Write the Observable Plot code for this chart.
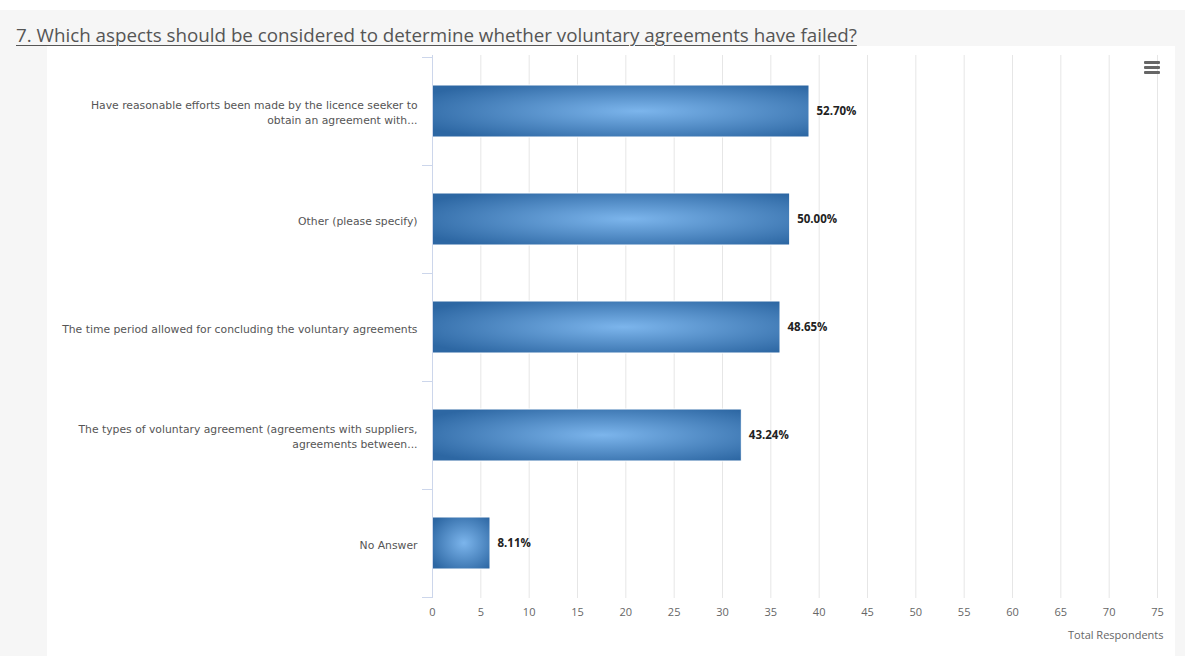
<!DOCTYPE html>
<html>
<head>
<meta charset="utf-8">
<script src="https://cdn.jsdelivr.net/npm/d3@7"></script>
<script src="https://cdn.jsdelivr.net/npm/@observablehq/plot@0.6"></script>
<style>
  html, body { margin: 0; padding: 0; background: #ffffff; }
  #page { position: absolute; left: 0; top: 10px; width: 1185px; height: 646px; background: #f6f6f6; }
  #title { position: absolute; left: 16px; top: 12px; z-index: 2; font-family: "Open Sans", sans-serif; font-size: 18.8px; color: #555; text-decoration: underline; text-underline-offset: 3px; text-decoration-thickness: 1px; white-space: nowrap; }
  #panel { position: absolute; left: 47px; top: 36px; width: 1128px; height: 610px; background: #ffffff; }
  #menu { position: absolute; right: 15px; top: 15px; width: 16px; }
  #menu div { height: 3px; background: #666; margin-bottom: 2px; border-radius: 1px; }
</style>
</head>
<body>
<div id="page">
  <div id="panel"><div id="chart"></div><div id="menu"><div></div><div></div><div></div></div></div>
  <div id="title">7. Which aspects should be considered to determine whether voluntary agreements have failed?</div>
</div>
<script>
const categories = [
  "Have reasonable efforts been made by the licence seeker to\nobtain an agreement with...",
  "Other (please specify)",
  "The time period allowed for concluding the voluntary agreements",
  "The types of voluntary agreement (agreements with suppliers,\nagreements between...",
  "No Answer"
];
const respondents = [39, 37, 36, 32, 6];
const percentLabels = ["52.70%", "50.00%", "48.65%", "43.24%", "8.11%"];
const xTicks = [0, 5, 10, 15, 20, 25, 30, 35, 40, 45, 50, 55, 60, 65, 70, 75];
const xLabel = "Total Respondents";

const data = categories.map((c, i) => ({category: c, value: respondents[i], label: percentLabels[i]}));
const padInner = 0.52;

function bandBoundaryTicks(index, scales) {
  const y = scales.y, x = scales.x;
  const ys = categories.map(c => y(c));
  const step = ys[1] - ys[0];
  const bw = step * (1 - padInner);
  const x0 = x(0);
  const g = d3.create("svg:g").attr("stroke", "#ccd6eb").attr("stroke-width", 1);
  const bounds = ys.map(v => v - (step - bw) / 2);
  bounds.push(ys[ys.length - 1] + bw + (step - bw) / 2);
  for (const b of bounds) {
    g.append("line").attr("x1", x0 - 10).attr("x2", x0).attr("y1", Math.round(b) + 0.5).attr("y2", Math.round(b) + 0.5);
  }
  return g.node();
}

const chart = Plot.plot({
  width: 1128,
  height: 610,
  marginLeft: 385,
  marginRight: 18,
  marginTop: 9,
  marginBottom: 58,
  style: {fontFamily: "'Open Sans', sans-serif", fontSize: "11px", background: "transparent"},
  x: {domain: [0, 75]},
  y: {domain: categories, paddingInner: padInner, paddingOuter: padInner / 2},
  marks: [
    Plot.gridX(xTicks, {stroke: "#e6e6e6", strokeOpacity: 1}),
    Plot.axisX({ticks: xTicks, tickSize: 0, tickPadding: 10, label: null, fill: "#666", fontSize: 11}),
    Plot.axisY({tickSize: 0, tickPadding: 15, label: null, fill: "#555", fontSize: 10.8, fontFamily: "'DejaVu Sans', sans-serif", lineHeight: 1.45}),
    Plot.barX(data, {y: "category", x: "value", fill: "url(#barGrad)", stroke: "#ffffff", strokeWidth: 1}),
    Plot.ruleX([0], {stroke: "#ccd6eb"}),
    bandBoundaryTicks,
    Plot.text(data, {y: "category", x: "value", text: "label", dx: 7, textAnchor: "start", fontWeight: "bold", fill: "#222", fontSize: 11.5}),
    Plot.text([xLabel], {frameAnchor: "bottom-right", text: d => d, dy: 40, dx: 6, fill: "#666", fontSize: 11, textAnchor: "end"})
  ]
});

const defs = d3.select(chart).insert("defs", ":first-child");
const grad = defs.append("radialGradient").attr("id", "barGrad")
  .attr("cx", "0.55").attr("cy", "0.5").attr("r", "0.65");
grad.append("stop").attr("offset", "0").attr("stop-color", "#7cb5ec");
grad.append("stop").attr("offset", "1").attr("stop-color", "#2d67a3");

document.getElementById("chart").appendChild(chart);
</script>
</body>
</html>
